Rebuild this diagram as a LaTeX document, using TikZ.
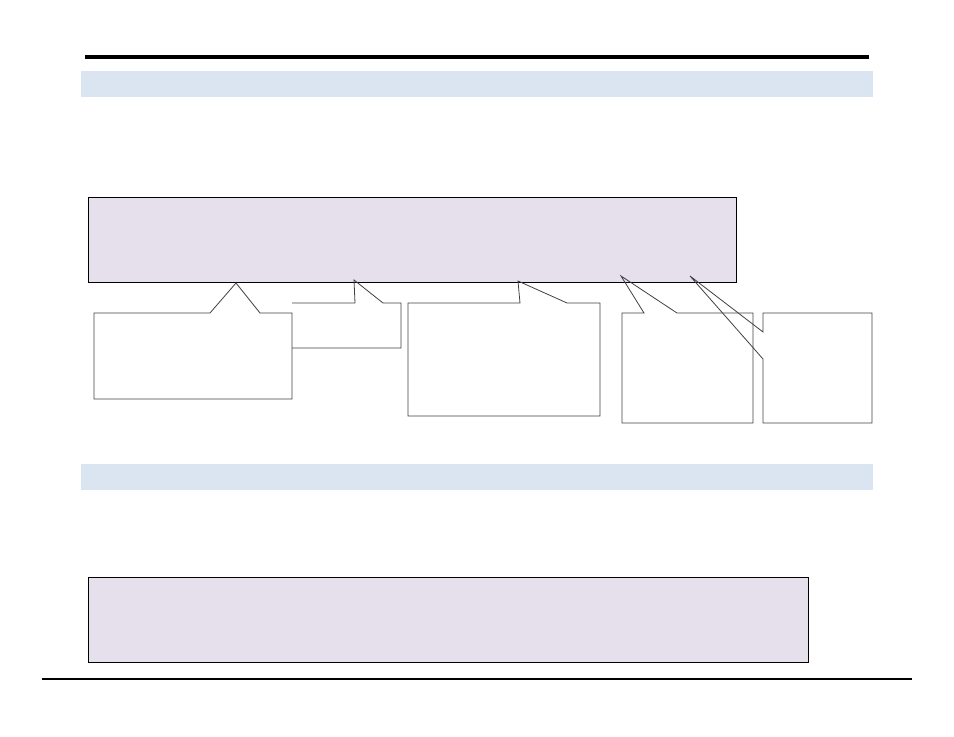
\documentclass[tikz,border=0pt]{standalone}
\usepackage{tikz}
\usetikzlibrary{positioning}
\definecolor{bandblue}{RGB}{219,229,241}
\definecolor{boxlilac}{RGB}{229,224,236}
\tikzset{
  band/.style={fill=bandblue, draw=none},
  mainbox/.style={fill=boxlilac, draw=black, line width=0.65pt},
  callout/.style={draw=black!75, line width=0.6pt, line join=miter}
}

\begin{document}
\begin{tikzpicture}[x=0.75pt, y=-0.75pt]
    \useasboundingbox (0,0) rectangle (954,737);
    % rules
    \draw[black, line width=2.4pt] (85,57) -- (869,57);
    \draw[black, line width=0.9pt] (42,679) -- (912,679);
    % section bands
    \foreach \y in {71,464}{\fill[bandblue] (81,\y) rectangle (873,\y+26);}
    % main boxes
    \draw[mainbox] (88,197) rectangle (736,282);
    \draw[mainbox] (88,577) rectangle (808,662);
    % callouts
    \draw[callout] (94,313) -- (210,313) -- (236,283) -- (260,313) -- (292,313) -- (292,399) -- (94,399) -- cycle;
    \draw[callout] (292,303) -- (355,303) -- (354,280) -- (383,303) -- (401,303) -- (401,348) -- (292,348);
    \draw[callout] (408,303) -- (520,303) -- (518,281) -- (567,303) -- (600,303) -- (600,416) -- (408,416) -- cycle;
    \draw[callout] (622,313) -- (644,313) -- (621,276) -- (677,313) -- (753,313) -- (753,423) -- (622,423) -- cycle;
    \draw[callout] (763,313) -- (872,313) -- (872,423) -- (763,423) -- (763,359) -- (690,276) -- (763,332) -- cycle;
\end{tikzpicture}
\end{document}
